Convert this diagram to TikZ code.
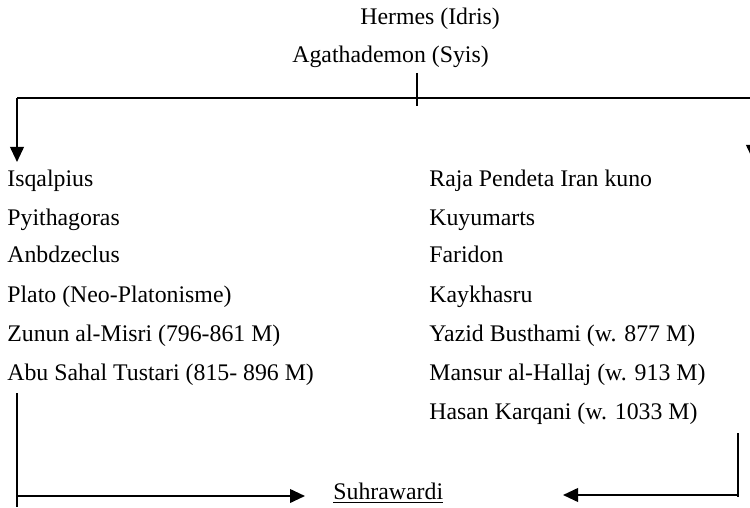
\documentclass[tikz,border=0pt]{standalone}
\usepackage{fontspec}
\setmainfont{Liberation Serif}
\usetikzlibrary{arrows.meta}
\begin{document}
\begin{tikzpicture}[x=0.5pt,y=-0.5pt,
  lbl/.style={anchor=base west,inner sep=0pt,font=\fontsize{11.9}{14}\selectfont},
  conn/.style={line width=1pt},
  arr/.style={conn,-{Triangle[length=7.5pt,width=6.8pt]}}]
\clip (0,0) rectangle (750,508);
\useasboundingbox (0,0) rectangle (750,508);
% top
\node[lbl] (hermes) at (360,25) {Hermes (Idris)};
\node[lbl] (agatha) at (292,63) {Agathademon (Syis)};
% left column
\node[lbl] (l1) at (7,186) {Isqalpius};
\node[lbl] (l2) at (7,225) {Pyithagoras};
\node[lbl] (l3) at (7,263) {Anbdzeclus};
\node[lbl] (l4) at (7,302) {Plato (Neo-Platonisme)};
\node[lbl] (l5) at (7,341) {Zunun al-Misri (796-861 M)};
\node[lbl] (l6) at (7,380) {Abu Sahal Tustari (815- 896 M)};
% right column
\node[lbl] (r1) at (429,186) {Raja Pendeta Iran kuno};
\node[lbl] (r2) at (429,225) {Kuyumarts};
\node[lbl] (r3) at (429,263) {Faridon};
\node[lbl] (r4) at (429,302) {Kaykhasru};
\node[lbl] (r5) at (429,341) {Yazid Busthami (w. 877 M)};
\node[lbl] (r6) at (429,380) {Mansur al-Hallaj (w. 913 M)};
\node[lbl] (r7) at (429,419) {Hasan Karqani (w. 1033 M)};
% bottom
\node[lbl] (suh) at (333,499) {\underline{Suhrawardi}};
% coordinates
\coordinate (ttop) at (417,73);
\coordinate (tbot) at (417,106);
\coordinate (hl) at (17,98);
\coordinate (hr) at (753,98);
\coordinate (ltip) at (17,162);
\coordinate (rtip) at (753,160);
\coordinate (blt) at (17,393);
\coordinate (blb) at (17,507);
\coordinate (blm) at (17,496);
\coordinate (bltip) at (305,496);
\coordinate (brt) at (738,433);
\coordinate (brb) at (738,497);
\coordinate (brm) at (738,495);
\coordinate (brtip) at (563,495);
% connectors
\draw[conn] (ttop) -- (tbot);
\draw[conn] (hl) -- (hr);
\draw[arr] (hl) -- (ltip);
\draw[arr] (hr) -- (rtip);
\draw[conn] (blt) -- (blb);
\draw[arr] (blm) -- (bltip);
\draw[conn] (brt) -- (brb);
\draw[arr] (brm) -- (brtip);
\end{tikzpicture}
\end{document}
